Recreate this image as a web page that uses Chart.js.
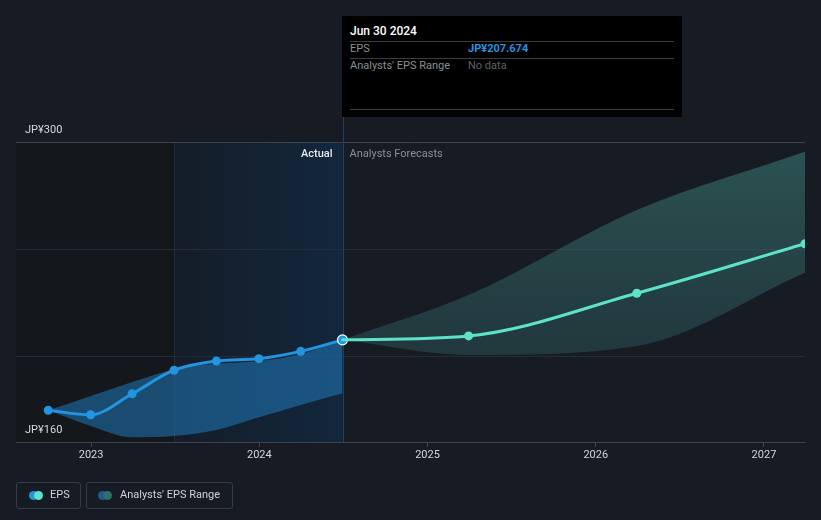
<!DOCTYPE html>
<html><head><meta charset="utf-8">
<script src="https://cdn.jsdelivr.net/npm/chart.js@4"></script>
<style>
html,body{margin:0;padding:0;background:#161b24;}
#wrap{position:relative;width:821px;height:520px;font-family:Roboto,"Noto Sans",sans-serif;overflow:hidden;}
#c{position:absolute;left:0;top:0;}
.tt{position:absolute;left:342px;top:16px;width:340px;height:101px;background:#000;}
.tt .ln{position:absolute;left:8px;width:324px;height:1px;background:#3a3c40;}
.tt span{position:absolute;white-space:nowrap;line-height:14px;}
.lg{position:absolute;top:482px;height:25px;border:1px solid #363c48;border-radius:3px;}
.dot{position:absolute;top:8px;width:9px;height:9px;border-radius:50%;}
.lg span{position:absolute;top:5px;line-height:14px;font-size:11px;color:#d0d3d8;white-space:nowrap;}
</style></head>
<body>
<div id="wrap">
<canvas id="c" width="821" height="520"></canvas>
<div class="tt">
  <span style="left:8px;top:8px;font-size:12px;color:#fff;font-weight:500;">Jun 30 2024</span>
  <div class="ln" style="top:25px"></div>
  <span style="left:8px;top:26px;font-size:11px;color:#8a8f96;">EPS</span>
  <span style="left:126px;top:26px;font-size:11px;color:#2394df;font-weight:700;">JP¥207.674</span>
  <div class="ln" style="top:42px"></div>
  <span style="left:8px;top:43px;font-size:11px;color:#8a8f96;">Analysts' EPS Range</span>
  <span style="left:126px;top:43px;font-size:11px;color:#5e636a;">No data</span>
  <div class="ln" style="top:93px"></div>
</div>
<div class="lg" style="left:16px;width:63px;">
  <div class="dot" style="left:12px;background:#2394df"></div>
  <div class="dot" style="left:17px;background:#5ee3c9"></div>
  <span style="left:33px;">EPS</span>
</div>
<div class="lg" style="left:86px;width:145px;">
  <div class="dot" style="left:11px;background:#1f5a8a"></div>
  <div class="dot" style="left:16px;background:#2e6e6c"></div>
  <span style="left:33px;">Analysts' EPS Range</span>
</div>
</div>
<script>
// ---- data ----
const actualDates = ['2022-09-30','2022-12-31','2023-03-31','2023-06-30','2023-09-30','2023-12-31','2024-03-31','2024-06-30'];
const actualEPS = [174.8, 172.7, 182.5, 193.5, 197.8, 198.9, 202.3, 207.674];
const actualRangeLow = [174.8, 167.5, 162.2, 162.8, 165.6, 171.5, 177.3, 182.7];
const actualRangeHigh = [174.8, 181.5, 188, 194, 196.5, 197.8, 201, 207.674];
const forecastDates = ['2024-06-30','2025-03-31','2026-03-31','2027-03-31'];
const forecastEPS = [207.674, 209.5, 229.4, 252.5];
const forecastLow = [207.674, 200.6, 204.8, 239.0];
const forecastHigh = [207.674, 228.6, 268.3, 295.5];
const xTickYears = [2023, 2024, 2025, 2026, 2027];
const yGridValues = [160, 200, 250, 300];
const yLabelValues = [300, 160];
const xRange = ['2022-07-22', '2027-03-31'];
const highlightStart = '2023-06-30';
const actualEnd = '2024-06-30';

function dy(s){
  const d = new Date(s + 'T00:00:00Z');
  const y = d.getUTCFullYear();
  const start = Date.UTC(y,0,1), end = Date.UTC(y+1,0,1);
  return y + (d.getTime() - start) / (end - start);
}
const pts = (dates, vals) => dates.map((d,i)=>({x:dy(d), y:vals[i]}));

const bgPlugin = {
  id:'bgRegions',
  beforeDraw(chart){
    const {ctx, chartArea:a, scales:{x}} = chart;
    const hs = x.getPixelForValue(dy(highlightStart));
    const ae = x.getPixelForValue(dy(actualEnd));
    ctx.save();
    ctx.fillStyle = '#14171c';
    ctx.fillRect(a.left, a.top, hs - a.left, a.bottom - a.top);
    const g = ctx.createLinearGradient(hs,0,ae,0);
    g.addColorStop(0,'#141d28');
    g.addColorStop(1,'#13273d');
    ctx.fillStyle = g;
    ctx.fillRect(hs, a.top, ae - hs, a.bottom - a.top);
    ctx.fillStyle = 'rgba(60,90,120,0.25)';
    ctx.fillRect(Math.round(hs), a.top, 1, a.bottom - a.top);
    ctx.restore();
  },
  beforeDatasetsDraw(chart){
    const {ctx, chartArea:a, scales:{x}} = chart;
    const ae = Math.round(x.getPixelForValue(dy(actualEnd)));
    ctx.save();
    ctx.fillStyle = '#23405c';
    ctx.fillRect(ae, 117, 1, a.bottom - 117);
    ctx.restore();
  },
  afterDraw(chart){
    const {ctx, scales:{x,y}} = chart;
    const ae = x.getPixelForValue(dy(actualEnd));
    ctx.save();
    ctx.font = '11px Roboto, "Noto Sans", sans-serif';
    ctx.textBaseline = 'middle';
    ctx.fillStyle = '#d5d8dc';
    yLabelValues.forEach(v=>{
      ctx.textAlign = 'left';
      ctx.fillText('JP¥' + v, 25, y.getPixelForValue(v) - 12);
    });
    ctx.font = '500 11px Roboto, "Noto Sans", sans-serif';
    ctx.textAlign = 'right';
    ctx.fillStyle = '#e6e8eb';
    ctx.fillText('Actual', ae - 10, y.getPixelForValue(300) + 12);
    ctx.font = '11px Roboto, "Noto Sans", sans-serif';
    ctx.textAlign = 'left';
    ctx.fillStyle = '#8b9097';
    ctx.fillText('Analysts Forecasts', ae + 7, y.getPixelForValue(300) + 12);
    ctx.restore();
  }
};

const lastIdx = actualDates.length - 1;
new Chart(document.getElementById('c'), {
  type:'line',
  data:{ datasets:[
    { data: pts(actualDates, actualEPS), borderColor:'#2394df', borderWidth:3,
      pointBackgroundColor:'#2394df',
      pointBorderColor: c => c.dataIndex === lastIdx ? '#ffffff' : '#2394df',
      pointBorderWidth: c => c.dataIndex === lastIdx ? 1.2 : 0,
      pointRadius: c => c.dataIndex === lastIdx ? 5 : 4.5,
      cubicInterpolationMode:'monotone', fill:false, order:0 },
    { data: pts(forecastDates, forecastEPS), borderColor:'#5ee3c9', borderWidth:3,
      pointBackgroundColor:'#5ee3c9', pointBorderWidth:0,
      pointRadius: c => c.dataIndex === 0 ? 0 : 4.5,
      cubicInterpolationMode:'monotone', fill:false, order:-1 },
    { data: pts(actualDates, actualRangeLow), borderWidth:0, pointRadius:0,
      cubicInterpolationMode:'monotone', fill:false, order:2 },
    { data: pts(actualDates, actualRangeHigh), borderWidth:0, pointRadius:0,
      cubicInterpolationMode:'monotone', fill:2, backgroundColor:'rgba(32,130,200,0.5)', order:2 },
    { data: pts(forecastDates, forecastLow), borderWidth:0, pointRadius:0,
      cubicInterpolationMode:'monotone', fill:false, order:2 },
    { data: pts(forecastDates, forecastHigh), borderWidth:0, pointRadius:0,
      cubicInterpolationMode:'monotone', fill:4, order:2,
      backgroundColor: c => {
        const ch = c.chart; const a = ch.chartArea;
        if(!a) return 'rgba(60,120,115,0.45)';
        const yb = ch.scales.y.getPixelForValue(200);
        const g = ch.ctx.createLinearGradient(0,a.top,0,yb);
        g.addColorStop(0,'rgba(70,145,135,0.48)');
        g.addColorStop(1,'rgba(50,100,100,0.40)');
        return g;
      } }
  ]},
  options:{
    responsive:false, animation:false,
    layout:{padding:{left:16,right:16,top:142,bottom:58}},
    plugins:{legend:{display:false}, tooltip:{enabled:false}},
    elements:{line:{borderCapStyle:'round'}},
    scales:{
      x:{ type:'linear', min:dy(xRange[0]), max:dy(xRange[1]),
        afterBuildTicks: s => { s.ticks = xTickYears.map(v=>({value:v})); },
        afterFit: s => { s.height = 20; },
        ticks:{ color:'#d5d8dc', font:{size:11, family:'Roboto'}, padding:2, maxRotation:0, autoSkip:false,
          callback: v => String(v) },
        grid:{ drawOnChartArea:false, drawTicks:true, tickLength:5, tickColor:'#3d424b' },
        border:{ display:true, color:'#3d424b', width:1 } },
      y:{ min:160, max:300,
        afterBuildTicks: s => { s.ticks = yGridValues.map(v=>({value:v})); },
        afterFit: s => { s.width = 0; },
        ticks:{ display:false },
        grid:{ drawTicks:false, lineWidth:1,
          color: c => c.tick.value === 300 ? '#3d434d' : (c.tick.value === 160 ? 'rgba(0,0,0,0)' : '#262c36') },
        border:{ display:false } }
    }
  },
  plugins:[bgPlugin]
});
</script>
</body></html>
